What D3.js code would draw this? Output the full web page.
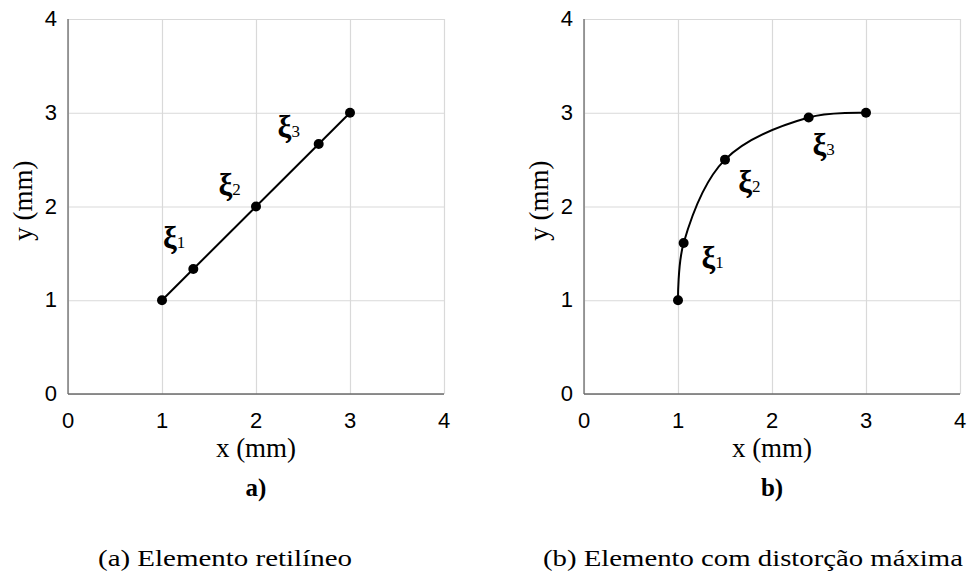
<!DOCTYPE html>
<html>
<head>
<meta charset="utf-8">
<script src="https://cdn.jsdelivr.net/npm/d3@7"></script>
<style>
  body { margin: 0; background: #fff; }
  svg { display: block; }
</style>
</head>
<body>
<svg id="chart" width="967" height="578"></svg>
<script>
// tick values shared by both panels
var tickValues = [0, 1, 2, 3, 4];

// panel a) straight element
var straightX = [1, 1.333, 2, 2.667, 3];
var straightY = [1, 1.333, 2, 2.667, 3];
var straightLabels = [
  { name: "1", x: 1.01, y: 1.56 },
  { name: "2", x: 1.6, y: 2.12 },
  { name: "3", x: 2.23, y: 2.74 }
];

// panel b) element with max distortion
var curvedX = [1, 1.06, 1.5, 2.39, 3];
var curvedY = [1, 1.61, 2.5, 2.95, 3];
var curvedLabels = [
  { name: "1", x: 1.25, y: 1.34 },
  { name: "2", x: 1.64, y: 2.15 },
  { name: "3", x: 2.43, y: 2.55 }
];

var captions = ["(a) Elemento retilíneo", "(b) Elemento com distorção máxima"];

var svg = d3.select("#chart");
var sans = "'Liberation Sans', Arial, sans-serif";
var serif = "'Liberation Serif', 'Times New Roman', serif";

function drawPanel(opts) {
  var g = svg.append("g").attr("transform", "translate(" + opts.left + ",19)");
  var w = 376, h = 375;

  var x = d3.scaleLinear().domain([0, 4]).range([0, w]);
  var y = d3.scaleLinear().domain([0, 4]).range([h, 0]);

  // grid
  g.append("g")
    .attr("transform", "translate(0," + h + ")")
    .call(d3.axisBottom(x).tickValues(tickValues).tickSize(-h).tickFormat(""))
    .call(function (s) {
      s.select(".domain").remove();
      s.selectAll("line").attr("stroke", "#d9d9d9").attr("stroke-width", 1.2);
    });
  g.append("g")
    .call(d3.axisLeft(y).tickValues(tickValues).tickSize(-w).tickFormat(""))
    .call(function (s) {
      s.select(".domain").remove();
      s.selectAll("line").attr("stroke", "#d9d9d9").attr("stroke-width", 1.2);
    });

  // axes
  g.append("line").attr("x1", 0).attr("x2", 0).attr("y1", 0).attr("y2", h)
    .attr("stroke", "#6b6b6b").attr("stroke-width", 1.3);
  g.append("line").attr("x1", 0).attr("x2", w).attr("y1", h).attr("y2", h)
    .attr("stroke", "#6b6b6b").attr("stroke-width", 1.3);

  // tick labels
  g.selectAll(".xt").data(tickValues).enter().append("text")
    .attr("x", function (d) { return x(d); })
    .attr("y", h + 34)
    .attr("text-anchor", "middle")
    .style("font-family", sans).style("font-size", "22px")
    .text(function (d) { return d; });
  g.selectAll(".yt").data(tickValues).enter().append("text")
    .attr("x", -11)
    .attr("y", function (d) { return y(d) + 7; })
    .attr("text-anchor", "end")
    .style("font-family", sans).style("font-size", "22px")
    .text(function (d) { return d; });

  // axis titles
  g.append("text")
    .attr("x", w / 2).attr("y", h + 63)
    .attr("text-anchor", "middle")
    .style("font-family", serif).style("font-size", "27px")
    .text("x (mm)");
  g.append("text")
    .attr("transform", "translate(" + (-36) + "," + (h / 2 - 6) + ") rotate(-90)")
    .attr("text-anchor", "middle")
    .style("font-family", serif).style("font-size", "27px")
    .text("y (mm)");
  g.append("text")
    .attr("x", w / 2).attr("y", h + 102)
    .attr("text-anchor", "middle")
    .style("font-family", serif).style("font-size", "25px").style("font-weight", "bold")
    .text(opts.tag);

  // line + points
  var pts = opts.xs.map(function (d, i) { return [d, opts.ys[i]]; });
  var line = d3.line()
    .x(function (d) { return x(d[0]); })
    .y(function (d) { return y(d[1]); })
    .curve(opts.curve);
  g.append("path").datum(pts)
    .attr("d", line)
    .attr("fill", "none").attr("stroke", "#000").attr("stroke-width", 2);
  g.selectAll(".pt").data(pts).enter().append("circle")
    .attr("cx", function (d) { return x(d[0]); })
    .attr("cy", function (d) { return y(d[1]); })
    .attr("r", 5).attr("fill", "#000");

  // xi labels
  var lab = g.selectAll(".xi").data(opts.labels).enter().append("text")
    .attr("x", function (d) { return x(d.x); })
    .attr("y", function (d) { return y(d.y); })
    .style("font-family", serif).style("font-weight", "bold");
  lab.append("tspan").style("font-size", "31px").text("ξ");
  lab.append("tspan").style("font-size", "17px").style("font-weight", "normal")
    .text(function (d) { return d.name; });

  // caption
  svg.append("text")
    .attr("x", opts.capX).attr("y", 566)
    .attr("textLength", opts.capW).attr("lengthAdjust", "spacingAndGlyphs")
    .style("font-family", serif).style("font-size", "24px")
    .text(opts.caption);
}

drawPanel({ left: 68, xs: straightX, ys: straightY, labels: straightLabels,
  curve: d3.curveLinear, tag: "a)", caption: captions[0], capX: 98, capW: 254 });
drawPanel({ left: 584, xs: curvedX, ys: curvedY, labels: curvedLabels,
  curve: d3.curveCatmullRom.alpha(0.5), tag: "b)", caption: captions[1], capX: 543, capW: 420 });
</script>
</body>
</html>
